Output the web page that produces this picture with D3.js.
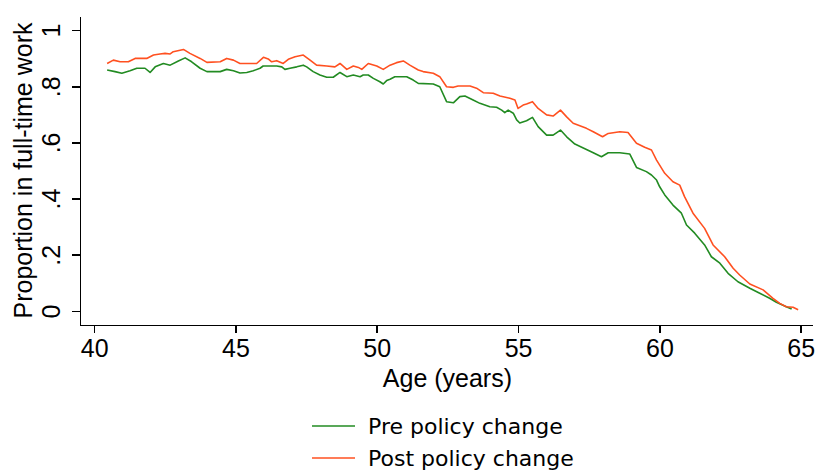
<!DOCTYPE html>
<html>
<head>
<meta charset="utf-8">
<script src="https://cdn.jsdelivr.net/npm/d3@7"></script>
<style>
    html, body { margin: 0; padding: 0; background: #fff; }
    svg { display: block; }
    .axis text { font-family: "Liberation Sans", Arial, sans-serif; font-size: 25px; fill: #000; }
    .axis path, .axis line { stroke: #000; stroke-width: 1.6px; shape-rendering: crispEdges; }
    .axis-title { font-family: "Liberation Sans", Arial, sans-serif; font-size: 25px; fill: #000; }
    .legend-text { font-family: "DejaVu Sans", Verdana, sans-serif; font-size: 22px; fill: #000; }
</style>
</head>
<body>
<svg id="chart" width="816" height="473"></svg>
<script>
"use strict";

// Pre policy change (green)
var preAge = [40.46, 40.74, 40.98, 41.27, 41.51, 41.80, 41.98, 42.16, 42.45, 42.69, 42.98, 43.22, 43.45, 43.75,
    43.99, 44.46, 44.69, 44.93, 45.16, 45.40, 45.63, 45.87, 45.98, 46.22, 46.46, 46.64, 46.75, 46.93, 47.17,
    47.40, 47.52, 47.75, 47.99, 48.23, 48.46, 48.70, 48.94, 49.17, 49.41, 49.52, 49.70, 49.88, 50.11, 50.23,
    50.35, 50.47, 50.64, 51.06, 51.29, 51.47, 52.00, 52.23, 52.47, 52.71, 52.94, 53.12, 53.41, 53.65, 54.00,
    54.24, 54.42, 54.53, 54.65, 54.83, 54.95, 55.06, 55.30, 55.51, 55.71, 56.01, 56.24, 56.50, 56.72, 57.01,
    57.42, 57.66, 57.95, 58.19, 58.60, 58.95, 59.19, 59.54, 59.72, 59.90, 60.01, 60.19, 60.48, 60.78, 60.96,
    61.25, 61.60, 61.84, 62.14, 62.43, 62.78, 63.20, 63.55, 63.90, 64.14, 64.49, 64.68];
var preValue = [0.858, 0.852, 0.846, 0.855, 0.864, 0.864, 0.849, 0.869, 0.881, 0.875, 0.890, 0.901, 0.887, 0.864,
    0.852, 0.852, 0.860, 0.855, 0.847, 0.849, 0.855, 0.864, 0.872, 0.872, 0.872, 0.869, 0.860, 0.864, 0.869,
    0.875, 0.869, 0.852, 0.840, 0.832, 0.832, 0.849, 0.834, 0.840, 0.834, 0.840, 0.840, 0.828, 0.816, 0.808,
    0.820, 0.825, 0.834, 0.834, 0.822, 0.810, 0.808, 0.798, 0.745, 0.741, 0.763, 0.765, 0.751, 0.739, 0.727,
    0.725, 0.715, 0.706, 0.715, 0.704, 0.680, 0.669, 0.677, 0.689, 0.656, 0.626, 0.626, 0.644, 0.620, 0.594,
    0.575, 0.563, 0.549, 0.563, 0.563, 0.559, 0.511, 0.496, 0.484, 0.466, 0.442, 0.413, 0.377, 0.348, 0.306,
    0.277, 0.235, 0.193, 0.170, 0.134, 0.104, 0.081, 0.063, 0.045, 0.031, 0.015, 0.007];

// Post policy change (orange)
var postAge = [40.46, 40.68, 40.92, 41.21, 41.45, 41.86, 42.10, 42.33, 42.51, 42.69, 42.80, 43.16, 43.39, 43.75,
    43.99, 44.46, 44.69, 44.93, 45.16, 45.40, 45.75, 45.99, 46.16, 46.28, 46.46, 46.69, 46.87, 47.11, 47.40,
    47.64, 47.87, 48.23, 48.52, 48.70, 48.94, 49.17, 49.35, 49.47, 49.70, 50.00, 50.23, 50.47, 50.70, 50.94,
    51.17, 51.47, 51.64, 52.00, 52.23, 52.47, 52.71, 52.88, 53.30, 53.53, 53.77, 54.12, 54.36, 54.71, 54.89,
    55.00, 55.18, 55.30, 55.51, 55.71, 56.01, 56.24, 56.50, 56.72, 56.95, 57.42, 57.66, 57.99, 58.19, 58.60,
    58.89, 59.19, 59.48, 59.72, 59.90, 60.19, 60.48, 60.72, 60.89, 61.19, 61.60, 61.90, 62.31, 62.61, 62.84,
    63.20, 63.67, 64.02, 64.26, 64.49, 64.73, 64.91];
var postValue = [0.881, 0.893, 0.887, 0.887, 0.899, 0.899, 0.911, 0.915, 0.917, 0.915, 0.923, 0.931, 0.917, 0.899,
    0.885, 0.887, 0.899, 0.893, 0.881, 0.881, 0.881, 0.903, 0.897, 0.887, 0.891, 0.881, 0.896, 0.905, 0.911,
    0.893, 0.875, 0.872, 0.869, 0.881, 0.860, 0.872, 0.867, 0.860, 0.881, 0.872, 0.860, 0.875, 0.884, 0.890,
    0.875, 0.858, 0.852, 0.846, 0.834, 0.798, 0.796, 0.801, 0.801, 0.793, 0.777, 0.775, 0.765, 0.757, 0.751,
    0.721, 0.733, 0.737, 0.745, 0.721, 0.698, 0.694, 0.715, 0.691, 0.668, 0.650, 0.638, 0.620, 0.632, 0.638,
    0.635, 0.597, 0.583, 0.573, 0.537, 0.490, 0.460, 0.448, 0.407, 0.348, 0.294, 0.235, 0.193, 0.152, 0.128,
    0.096, 0.075, 0.045, 0.027, 0.015, 0.013, 0.004];

var xTicks = [40, 45, 50, 55, 60, 65];
var yTicks = [0, 0.2, 0.4, 0.6, 0.8, 1];
var yTickLabels = ["0", ".2", ".4", ".6", ".8", "1"];

var seriesNames = ["Pre policy change", "Post policy change"];
var seriesColors = ["#228b22", "#ff5020"];

var svg = d3.select("#chart");

var x = d3.scaleLinear().domain([39.5, 65.4]).range([80, 812]);
var y = d3.scaleLinear().domain([-0.05, 1.05]).range([325, 16]);

var xAxis = d3.axisBottom(x)
    .tickValues(xTicks)
    .tickSize(8)
    .tickPadding(6)
    .tickSizeOuter(0);

var yAxis = d3.axisLeft(y)
    .tickValues(yTicks)
    .tickFormat(function (d, i) { return yTickLabels[i]; })
    .tickSize(8)
    .tickSizeOuter(0);

var gx = svg.append("g")
    .attr("class", "axis")
    .attr("transform", "translate(0,325)")
    .call(xAxis);
gx.selectAll("text").attr("dy", "0.72em");

var gy = svg.append("g")
    .attr("class", "axis")
    .attr("transform", "translate(80,0)")
    .call(yAxis);
// rotated tick labels, reading upward
gy.selectAll(".tick text")
    .attr("x", null)
    .attr("dy", null)
    .attr("text-anchor", "middle")
    .attr("transform", "translate(-20,0) rotate(-90)");

svg.append("text")
    .attr("class", "axis-title")
    .attr("text-anchor", "middle")
    .attr("transform", "translate(32," + y(0.5) + ") rotate(-90)")
    .text("Proportion in full-time work");

svg.append("text")
    .attr("class", "axis-title")
    .attr("text-anchor", "middle")
    .attr("x", x(52.5))
    .attr("y", 387)
    .text("Age (years)");

var line = d3.line()
    .x(function (d) { return x(d[0]); })
    .y(function (d) { return y(d[1]); });

var series = [d3.zip(preAge, preValue), d3.zip(postAge, postValue)];

svg.selectAll(".series")
    .data(series)
    .enter()
    .append("path")
    .attr("class", "series")
    .attr("fill", "none")
    .attr("stroke", function (d, i) { return seriesColors[i]; })
    .attr("stroke-width", 1.6)
    .attr("stroke-linejoin", "round")
    .attr("d", line);

// legend
var legend = svg.append("g").attr("transform", "translate(312,426)");
var entry = legend.selectAll(".legend-entry")
    .data(seriesNames)
    .enter()
    .append("g")
    .attr("class", "legend-entry")
    .attr("transform", function (d, i) { return "translate(0," + (i * 32) + ")"; });

entry.append("line")
    .attr("x1", 0)
    .attr("x2", 43)
    .attr("stroke", function (d, i) { return seriesColors[i]; })
    .attr("stroke-width", 1.6);

entry.append("text")
    .attr("class", "legend-text")
    .attr("x", 56)
    .attr("y", 8)
    .text(function (d) { return d; });
</script>
</body>
</html>
